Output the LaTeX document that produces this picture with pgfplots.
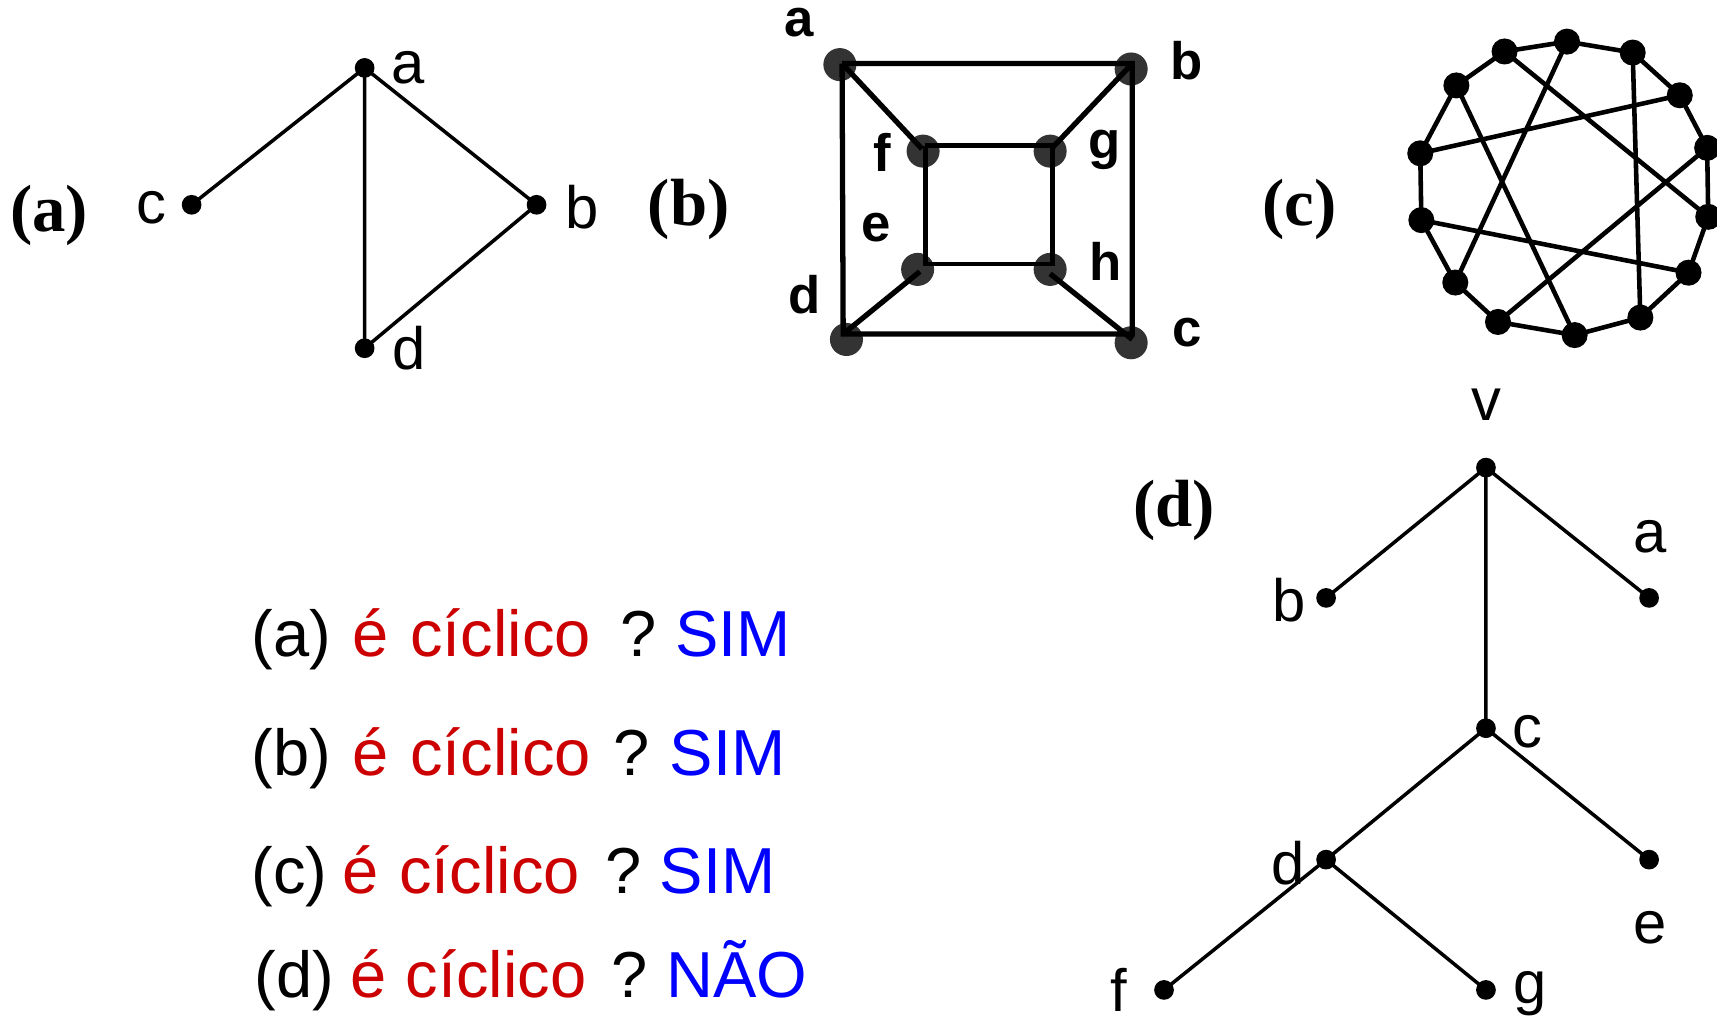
\documentclass[border=0pt]{standalone}
\usepackage{fontspec}
\setmainfont{Liberation Sans}
\newfontfamily\tnr{Liberation Serif}
\usepackage{pgfplots}
\pgfplotsset{compat=1.18}
\definecolor{ciclred}{RGB}{204,0,0}
\definecolor{simblue}{RGB}{0,0,255}
\definecolor{vgray}{RGB}{51,51,51}
\tikzset{
  big/.style={anchor=base west, inner sep=0pt, font=\fontsize{18.5}{22}\selectfont},
  red txt/.style={big, text=ciclred},
  panel/.style={inner sep=0pt, font=\tnr\bfseries\fontsize{19}{22}\selectfont},
  lbl/.style={inner sep=0pt, font=\fontsize{17}{20}\selectfont},
  blbl/.style={inner sep=0pt, font=\bfseries\fontsize{15}{18}\selectfont},
}
\begin{document}
\begin{tikzpicture}
\begin{axis}[
  scale only axis, width=17.17cm, height=10.195cm,
  xmin=0, xmax=1568, ymin=0, ymax=931, y dir=reverse,
  hide axis, clip mode=individual, unbounded coords=jump,
]
% (a)
\addplot[black, line width=1pt, line join=round] coordinates {
  (175,187) (333,62) (490,187) (333,318) (333,62)
};
\addplot[only marks, mark=*, mark size=2.6pt, black] coordinates {
  (333,62) (175,187) (490,187) (333,318)
};
\node[panel] at (45,197) {(a)};
\node[lbl] at (373,62) {a};
\node[lbl] at (138,190) {c};
\node[lbl] at (532,189) {b};
\node[lbl] at (374,318) {d};

% (b) cube graph
\addplot[only marks, mark=*, mark size=4.5pt, vgray] coordinates {
  (767,59) (1033,63) (1033,313) (773,310)
  (843,138) (959,138) (838,246) (959,246)
};
\addplot[black, line width=1.5pt, line join=miter] coordinates {
  (769,58) (1034,58) (1034,305) (770,305) (769,58)
  (nan,nan) (769,58) (842,136)
  (nan,nan) (1034,58) (960,136)
  (nan,nan) (1034,310) (959,250)
  (nan,nan) (770,305) (840,248)
};
\addplot[black, line width=1.3pt, line join=miter] coordinates {
  (845,133) (961,133) (961,241) (845,241) (845,133)
};
\node[panel] at (629,191) {(b)};
\node[blbl] at (730,21) {a};
\node[blbl] at (1084,55) {b};
\node[blbl] at (1084,304) {c};
\node[blbl] at (735,269) {d};
\node[blbl] at (806,139) {f};
\node[blbl] at (1009,137) {g};
\node[blbl] at (800,208) {e};
\node[blbl] at (1010,239) {h};

% (c) Heawood graph
\addplot[black, line width=1.3pt, line join=round] coordinates {
  (1374,47) (1431,38) (1491,48) (1534,87) (1559,135) (1560,198) (1542,249)
  (1498,290) (1438,306) (1368,294) (1329,258) (1298,201) (1297,140) (1330,78) (1374,47)
  (nan,nan) (1374,47) (1560,198)
  (nan,nan) (1431,38) (1329,258)
  (nan,nan) (1491,48) (1498,290)
  (nan,nan) (1534,87) (1297,140)
  (nan,nan) (1559,135) (1368,294)
  (nan,nan) (1542,249) (1298,201)
  (nan,nan) (1330,78) (1438,306)
};
\addplot[only marks, mark=*, mark size=3.5pt, black] coordinates {
  (1374,47) (1431,38) (1491,48) (1534,87) (1559,135) (1560,198) (1542,249)
  (1498,290) (1438,306) (1368,294) (1329,258) (1298,201) (1297,140) (1330,78)
};
\node[panel] at (1187,191) {(c)};

% (d) tree
\addplot[black, line width=1pt, line join=round] coordinates {
  (1211,546) (1357,427) (1506,546)
  (nan,nan) (1357,427) (1357,665) (1506,785)
  (nan,nan) (1357,665) (1211,785) (1063,904)
  (nan,nan) (1211,785) (1357,904)
};
\addplot[only marks, mark=*, mark size=2.6pt, black] coordinates {
  (1357,427) (1211,546) (1506,546) (1357,665)
  (1211,785) (1506,785) (1063,904) (1357,904)
};
\node[panel] at (1072,466) {(d)};
\node[lbl] at (1357,370) {v};
\node[lbl] at (1177,548) {b};
\node[lbl] at (1507,490) {a};
\node[lbl] at (1395,668) {c};
\node[lbl] at (1176,788) {d};
\node[lbl] at (1507,847) {e};
\node[lbl] at (1022,904) {f};
\node[lbl] at (1397,907) {g};

% questions
\node[big] at (229,599.7) {(a)};
\node[red txt] at (321,599.7) {é};
\node[red txt] at (374,599.7) {cíclico};
\node[big] at (566,599.7) {?};
\node[big, text=simblue] at (616,599.7) {SIM};

\node[big] at (229,707.8) {(b)};
\node[red txt] at (321,707.8) {é};
\node[red txt] at (374,707.8) {cíclico};
\node[big] at (560,707.8) {?};
\node[big, text=simblue] at (611,707.8) {SIM};

\node[big] at (229,815.7) {(c)};
\node[red txt] at (312,815.7) {é};
\node[red txt] at (364,815.7) {cíclico};
\node[big] at (552,815.7) {?};
\node[big, text=simblue] at (602,815.7) {SIM};

\node[big] at (232,911) {(d)};
\node[red txt] at (319,911) {é};
\node[red txt] at (370,911) {cíclico};
\node[big] at (558,911) {?};
\node[big, text=simblue] at (608,911) {NÃO};
\end{axis}
\pgfresetboundingbox
\path[use as bounding box] (current axis.south west) rectangle (current axis.north east);
\end{tikzpicture}
\end{document}
